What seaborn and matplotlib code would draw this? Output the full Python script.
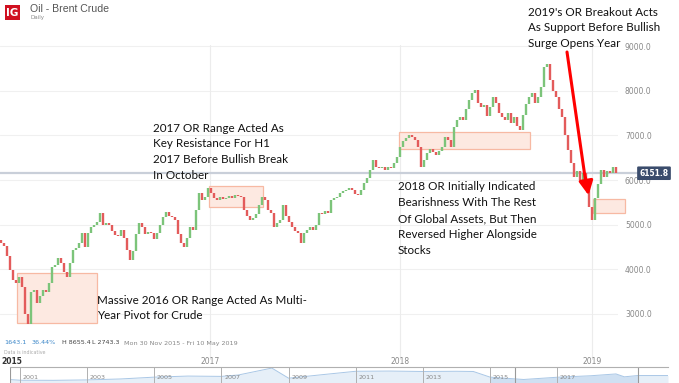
import matplotlib.pyplot as plt
import numpy as np
import seaborn as sns
from matplotlib.patches import Rectangle

# Brent crude closes, one value every few sessions (Nov 2015 - May 2019)
closes = [
    4590, 4520, 4300, 3980, 3760, 3700, 3830, 3600, 3000, 2780,
    3500, 3540, 3250, 3400, 3540, 3500, 3700, 4050, 4100, 4250,
    4150, 3950, 3830, 4150, 4430, 4480, 4600, 4810, 4500, 4810,
    4950, 5000, 5060, 5260, 5000, 5040, 5000, 4850, 4780, 4750,
    4880, 4700, 4430, 4210, 4400, 4800, 5040, 4950, 4800, 4840,
    4820, 4680, 4810, 5000, 5180, 5280, 5200, 5170, 5100, 4800,
    4600, 4500, 4700, 4950, 4880, 5330, 5710, 5550, 5620, 5820,
    5700, 5600, 5560, 5620, 5580, 5600, 5640, 5600, 5660, 5640,
    5610, 5330, 5200, 5100, 5150, 5250, 5450, 5620, 5550, 5330,
    5260, 4950, 5030, 5100, 5440, 5200, 5050, 4950, 4850, 4810,
    4590, 4810, 4880, 4950, 4880, 5000, 5260, 5230, 5300, 5260,
    5550, 5600, 5620, 5700, 5750, 5780, 5820, 5780, 5680, 5660,
    5780, 5930, 6050, 6220, 6450, 6300, 6280, 6300, 6220, 6290,
    6270, 6380, 6510, 6740, 6880, 6950, 7010, 6960, 6890, 6740,
    6290, 6450, 6600, 6700, 6620, 6560, 6650, 6750, 6960, 6900,
    6740, 7190, 7340, 7410, 7340, 7600, 7790, 7950, 8020, 7720,
    7640, 7680, 7430, 7630, 7850, 7720, 7500, 7410, 7340, 7500,
    7280, 7410, 7200, 7120, 7460, 7700, 7850, 7950, 7720, 7860,
    8080, 8530, 8600, 8250, 8000, 7850, 7600, 7400, 7000, 6670,
    6380, 6070, 6200, 6000, 6150, 5930, 5400, 5100, 5600, 5900,
    6220, 6070, 6200, 6150, 6290, 6152,
]
first_open = 4650
last_price = 6151.8

price_ticks = [3000, 4000, 5000, 6000, 7000, 8000, 9000]
year_labels = ["2015", "2017", "2018", "2019"]
year_pos = [3.5, 69.5, 132.8, 196.8]

# opening-range boxes: (first candle, last candle, low, high)
or_boxes = [
    (5.2, 31.8, 2800, 3920),
    (69.2, 87.2, 5396, 5866),
    (132.5, 176.2, 6694, 7075),
    (197.2, 207.8, 5261, 5575),
]

notes = [
    ["Massive 2016 OR Range Acted As Multi-", "Year Pivot for Crude"],
    ["2017 OR Range Acted As", "Key Resistance For H1",
     "2017 Before Bullish Break", "In October"],
    ["2018 OR Initially Indicated", "Bearishness With The Rest",
     "Of Global Assets, But Then", "Reversed Higher Alongside", "Stocks"],
    ["2019's OR Breakout Acts", "As Support Before Bullish", "Surge Opens Year"],
]

# long history strip at the bottom
nav_years = [2000.7, 2001, 2002, 2003, 2004, 2005, 2006, 2007, 2007.5, 2008.5,
             2009, 2010, 2011, 2012, 2013, 2014, 2014.5, 2015, 2016, 2017,
             2018, 2018.75, 2019, 2019.4, 2020.3]
nav_prices = [32, 26, 25, 29, 38, 55, 65, 62, 75, 140,
              45, 78, 110, 112, 108, 110, 108, 55, 33, 54,
              68, 85, 58, 70, 70]
nav_sel = (2015.75, 2019.4)
nav_label_years = [2001, 2003, 2005, 2007, 2009, 2011, 2013, 2015, 2017]

W, H = 679, 383


def fx(px):
    return px / W


def fy(py):
    return 1 - py / H


sns.set_theme(style="white")
plt.rcParams["font.family"] = ["Lato", "DejaVu Sans"]

fig = plt.figure(figsize=(W / 100, H / 100), dpi=100)
ax = fig.add_axes([0, fy(337), fx(618), (337 - 45) / H])

#
# Grid
#
for p in price_ticks:
    ax.axhline(p, color="#f0f0f0", lw=0.8, zorder=0)
for xp in year_pos[1:]:
    ax.axvline(xp, ymin=-0.075, ymax=1, color="#ececec", lw=0.8,
               zorder=0, clip_on=False)

#
# Opening range boxes
#
for x0, x1, lo, hi in or_boxes:
    ax.add_patch(Rectangle((x0, lo), x1 - x0, hi - lo, facecolor="#fde9e1",
                           edgecolor="#f7b9a3", lw=0.9, zorder=1,
                           clip_on=False))

#
# Candles
#
close_arr = np.array(closes, dtype=float)
open_arr = np.concatenate([[first_open], close_arr[:-1]])
idx = np.arange(len(close_arr))
up = close_arr >= open_arr
ax.vlines(idx[up], open_arr[up], close_arr[up], color="#7cc47a", lw=1.7, zorder=3)
ax.vlines(idx[~up], open_arr[~up], close_arr[~up], color="#e35b5b", lw=1.7, zorder=3)

#
# Last price line + tag
#
ax.axhline(last_price, xmin=0, xmax=640 / 618, color="#c9cfd9", lw=1.6,
           zorder=2, clip_on=False)
ax.text(654 / 618, last_price, f"{last_price:.1f}", transform=ax.get_yaxis_transform(),
        ha="center", va="center", fontsize=5.5, color="white", fontweight="bold",
        family=["DejaVu Sans"],
        bbox=dict(boxstyle="round,pad=0.3,rounding_size=0.15", fc="#3a4c6c", ec="none"))

ax.set_xlim(-0.5, 205.5)
ax.set_ylim(2485, 9023)
ax.yaxis.tick_right()
ax.set_yticks(price_ticks)
ax.set_yticklabels([f"{p:.1f}" for p in price_ticks], fontsize=5.5, color="#888888",
                   family=["DejaVu Sans"])
ax.tick_params(axis="y", length=0, pad=5)
ax.set_xticks([])
for s in ax.spines.values():
    s.set_visible(False)

#
# Year labels under the plot
#
for xp, lab in zip(year_pos, year_labels):
    first = lab == year_labels[0]
    ax.text(xp, 2485 - (362 - 337) * 22.39, lab, ha="center", va="center",
            fontsize=5.5, color="#333333" if first else "#888888",
            fontweight="bold" if first else "normal", family=["DejaVu Sans"])

#
# Annotations (one text per line, 16px apart)
#
note_anchor = [(97, 300), (153, 128), (398, 187), (528, 12)]
for (x0, y0), lines in zip(note_anchor, notes):
    for k, line in enumerate(lines):
        fig.text(fx(x0), fy(y0 + 15.8 * k), line, fontsize=8.4, color="#111111",
                 va="center", ha="left")

fig.add_artist(plt.Line2D([fx(567), fx(586)], [fy(52), fy(184)], color="#ff0000",
                          lw=2.2, transform=fig.transFigure))
ax.annotate("", xy=(fx(589), fy(198)), xytext=(fx(585), fy(175)),
            xycoords="figure fraction", textcoords="figure fraction",
            arrowprops=dict(arrowstyle="-|>,head_length=0.7,head_width=0.35",
                            color="#ff0000", lw=2.2))

#
# Header
#
fig.patches.append(Rectangle((fx(5), fy(20)), fx(15), 15 / H, transform=fig.transFigure,
                             facecolor="#d01020", edgecolor="none"))
fig.text(fx(12.5), fy(12.5), "IG", ha="center", va="center", color="white",
         fontsize=7.5, fontweight="bold", family=["DejaVu Sans"])
fig.text(fx(30), fy(9), "Oil - Brent Crude", ha="left", va="center", fontsize=7.6,
         color="#555555", family=["Liberation Sans"])
fig.text(fx(30), fy(17), "Daily", ha="left", va="center", fontsize=4, color="#888888",
         family=["DejaVu Sans"])

#
# Stats row
#
stat_kw = dict(va="center", ha="left", fontsize=4.6, family=["DejaVu Sans"])
fig.text(fx(4), fy(343), "1643.1", color="#3a86c8", **stat_kw)
fig.text(fx(32), fy(343), "36.44%", color="#3a86c8", **stat_kw)
fig.text(fx(62), fy(343), "H 8655.4", color="#444444", **stat_kw)
fig.text(fx(92), fy(343), "L 2743.3", color="#444444", **stat_kw)
fig.text(fx(124), fy(343), "Mon 30 Nov 2015 - Fri 10 May 2019", color="#888888", **stat_kw)
fig.text(fx(4), fy(353), "Data is indicative", va="center", ha="left", fontsize=3.4,
         color="#aaaaaa", family=["DejaVu Sans"])

#
# Navigator strip
#
nav = fig.add_axes([fx(10), 0, fx(668) - fx(10), (383 - 367) / H])
nav_x = np.array(nav_years)
nav_y = np.array(nav_prices)
nav.fill_between(nav_x, 0, nav_y, color="#e6eff8", lw=0)
sel = (nav_x >= nav_sel[0] - 0.8) & (nav_x <= nav_sel[1])
nav.fill_between(nav_x, 0, nav_y, where=sel, color="#cfe0f2", lw=0)
sns.lineplot(x=nav_years, y=nav_prices, ax=nav, color="#a9c7e6", lw=0.7)
nav.set_xlim(2000.7, 2020.3)
nav.set_ylim(0, 150)
for yr in nav_label_years:
    nav.axvline(yr, color="#b0b0b0", lw=0.7)
    nav.text(yr + 0.08, 55, str(yr), fontsize=4.6, color="#888888", va="center",
             ha="left", family=["DejaVu Sans"])
for edge in nav_sel:
    nav.axvline(edge, color="#999999", lw=0.8)
nav.axvline(2001 - 0.3, color="#999999", lw=0.8)
nav.set_xticks([])
nav.set_yticks([])
nav.set_xlabel("")
nav.set_ylabel("")
for side, s in nav.spines.items():
    s.set_visible(side == "top")
    s.set_color("#b0b0b0")
    s.set_linewidth(0.8)

fig.savefig("out.png", dpi=100)
plt.close(fig)
